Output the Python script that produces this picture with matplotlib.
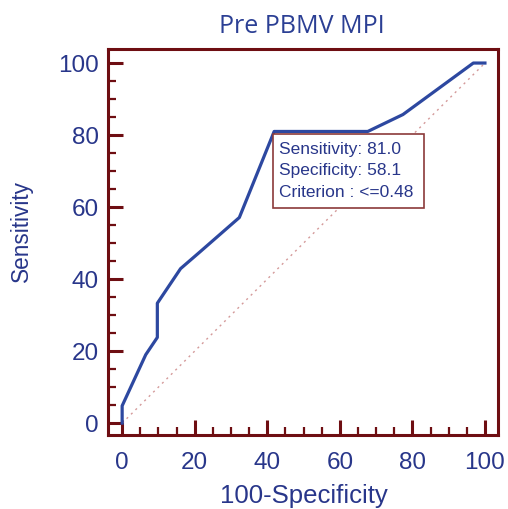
import matplotlib
matplotlib.use("Agg")
import matplotlib.pyplot as plt
from matplotlib.ticker import MultipleLocator
from matplotlib.patches import Rectangle

fpr = [0, 0, 6.5, 9.7, 9.7, 16.1, 21.5, 32.3, 41.9, 67.7, 77.4, 96.8, 100]
tpr = [0, 4.8, 19.0, 23.8, 33.3, 42.9, 47.6, 57.1, 81.0, 81.0, 85.7, 100, 100]
ticks = [0, 20, 40, 60, 80, 100]
title = "Pre PBMV MPI"
xlabel = "100-Specificity"
ylabel = "Sensitivity"
note_lines = ["Sensitivity: 81.0", "Specificity: 58.1", "Criterion : <=0.48"]

navy = "#28368a"
frame = "#6e0e12"
curve = "#2d48a0"
W, H = 508, 509

fig = plt.figure(figsize=(W/100, H/100), dpi=100)
ax = fig.add_axes([108/W, 1-435/H, (498-108)/W, (435-49)/H])
ax.plot([0, 100], [0, 100], linestyle=(0, (1.5, 3)), color="#d49a9a", lw=1.0)
ax.plot(fpr, tpr, color=curve, lw=2.3, solid_joinstyle="round")
ax.set_xlim(-3.9, 103.6)
ax.set_ylim(-3.3, 103.9)
ax.set_xticks(ticks)
ax.set_yticks(ticks)
ax.xaxis.set_minor_locator(MultipleLocator(5))
ax.yaxis.set_minor_locator(MultipleLocator(5))
ax.tick_params(which="major", direction="in", length=11, width=2.2, color=frame,
               labelsize=17.5, labelcolor=navy)
ax.tick_params(axis="y", which="major", pad=6.5)
ax.tick_params(axis="x", which="major", pad=12)
ax.tick_params(which="minor", direction="in", length=6, width=1.6, color=frame)
for s in ax.spines.values():
    s.set_color(frame)
    s.set_linewidth(2.2)
for lab in ax.get_xticklabels() + ax.get_yticklabels():
    lab.set_family("Liberation Sans")

fig.text(304/W, 1-503/H, xlabel, ha="center", va="baseline", fontsize=18.5,
         color=navy, family="Liberation Sans")
fig.text(21/W, 1-231/H, ylabel, ha="center", va="center", rotation=90,
         fontsize=16.3, color=navy, family="Liberation Sans")
fig.text(302/W, 1-33/H, title, ha="center", va="baseline", fontsize=18,
         color="#2b3f94", family="Open Sans")

ax.add_patch(Rectangle((41.6, 59.7), 83.2-41.6, 80.4-59.7, fc="white",
                       ec="#8b3a3a", lw=1.2, zorder=3))
for i, line in enumerate(note_lines):
    ax.text(43.3, 76.0 - 5.95 * i, line, ha="left", va="center", fontsize=12.5,
            color=navy, family="Liberation Sans", zorder=4)

fig.savefig("out.png", dpi=100)
